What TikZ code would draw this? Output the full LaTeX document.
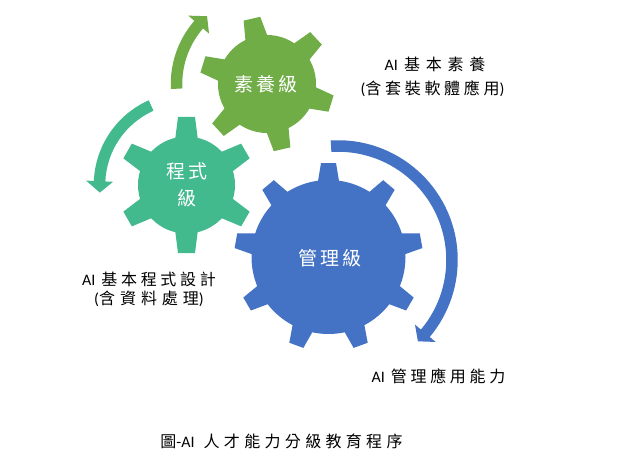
\documentclass[tikz,border=0pt]{standalone}
\usepackage{fontspec}
\setmainfont{Noto Sans CJK TC}
\newfontfamily\latf{Carlito}
\definecolor{gGreen}{RGB}{112,173,71}
\definecolor{gTeal}{RGB}{67,186,142}
\definecolor{gBlue}{RGB}{68,114,196}
% gear: color, cx, cy, body r, tip R, base width, tip width, tooth angles
\newcommand\gearShape[8]{%
  \begin{scope}[shift={(#2,#3)}]
    \fill[#1] (0,0) circle[radius=#4];
    \foreach \a in {#8}{%
      \fill[#1,rotate=\a] ({#4-4},{-#6/2}) -- (#5,{-#7/2}) -- (#5,{#7/2}) -- ({#4-4},{#6/2}) -- cycle;}
  \end{scope}}
% ring arrow: color, cx, cy, R, half width, start angle, head base angle, tip angle, head half width
\newcommand\ringArrow[9]{%
  \begin{scope}[shift={(#2,#3)}]
    \fill[#1] (#6:{#4+#5}) arc[start angle=#6, end angle=#7, radius={#4+#5}]
      -- (#7:{#4+#9}) -- (#8:#4) -- (#7:{#4-#9}) -- (#7:{#4-#5})
      arc[start angle=#7, end angle=#6, radius={#4-#5}] -- cycle;
  \end{scope}}
\newcommand\lsp[2]{{\addfontfeatures{LetterSpace=#1}#2}}
\begin{document}
\begin{tikzpicture}[x=1pt,y=1pt,
  geartext/.style={text=white,font=\fontsize{19}{23}\selectfont,inner sep=0pt,anchor=base},
  labeltext/.style={text=black,font=\fontsize{16}{19}\selectfont,inner sep=0pt,anchor=base}]
\useasboundingbox[fill=white] (0,0) rectangle (632,467);
\coordinate (cg) at (267,383);
\coordinate (ct) at (186.5,282);
\coordinate (cb) at (328.5,210);
% arrows
\ringArrow{gGreen}{267}{383}{90.5}{5.75}{183}{139}{131.5}{13.7}
\ringArrow{gTeal}{186.5}{282}{87}{5.75}{114}{177.5}{185}{13.5}
\ringArrow{gBlue}{338}{207}{114}{5.75}{93.5}{-40}{-45.5}{13.5}
% gears
\gearShape{gGreen}{267}{383}{49}{67}{23}{17}{103,163,...,403}
\gearShape{gTeal}{186.5}{282}{48.5}{68}{23}{17}{90,150,...,390}
\gearShape{gBlue}{328.5}{210}{77}{94}{22}{15}{90,130,...,410}
% gear texts
\node[geartext] (tg) at (266,375.3) {\lsp{16}{素養級}};
\node[geartext] (tt1) at (187,288.3) {\lsp{16}{程式}};
\node[geartext] (tt2) at (187,261.3) {級};
\node[geartext] (tb) at (330,201.7) {\lsp{16}{管理級}};
% labels
\node[labeltext] (l1a) at (435,396.4) {{\latf AI}\hspace{6pt}\lsp{36}{基本素養}};
\node[labeltext] (l1b) at (432.5,372) {{\latf (}\lsp{23}{含套裝軟體應用}{\latf )}};
\node[labeltext] (l2a) at (149,181.5) {{\latf AI}\hspace{6pt}\lsp{23}{基本程式設計}};
\node[labeltext] (l2b) at (149,163) {{\latf (}\lsp{31}{含資料處理}{\latf )}};
\node[labeltext] (l3) at (438.5,85) {{\latf AI}\hspace{6pt}\lsp{23}{管理應用能力}};
\node[labeltext] (cap) at (281.5,19.7) {圖{\latf -AI}\hspace{9pt}\lsp{27}{人才能力分級教育程序}};
\end{tikzpicture}
\end{document}
